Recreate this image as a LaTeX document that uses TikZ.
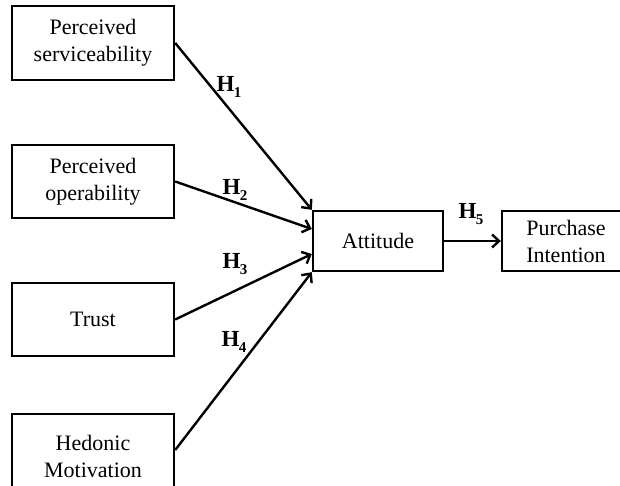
\documentclass[tikz,border=0pt]{standalone}
\usepackage{fontspec}
\setmainfont{Liberation Serif}
\usetikzlibrary{arrows.meta}
\newcommand\hlab[1]{\textbf{H\kern-0.5pt\raisebox{-0.5ex}{\fontsize{15}{15}\selectfont #1}}}
\begin{document}
\begin{tikzpicture}[x=1pt,y=-1pt,
  box/.style={draw,line width=2.4pt,minimum width=162pt,minimum height=74pt,align=center,inner sep=0pt,
    font=\fontsize{22}{27}\selectfont},
  rbox/.style={box,minimum width=130pt,minimum height=60pt},
  arr/.style={line width=2.4pt,-{Straight Barb[length=7pt,width=13pt,line width=2.4pt]}},
  hl/.style={font=\fontsize{23}{23}\selectfont,inner sep=0pt}]
\useasboundingbox (0,0) rectangle (620,486);
\clip (0,0) rectangle (620,486);
\node[box] (ps) at (93,43) {Perceived\\serviceability};
\node[box,minimum height=73pt] (po) at (93,181.5) {Perceived\\operability};
\node[box,minimum height=73pt] (tr) at (93,319.5) {Trust};
\node[box,minimum height=84pt] (hm) at (93,456) {Hedonic\\Motivation};
\node[rbox] (at) at (378,241) {Attitude};
\node[rbox,minimum width=128pt] (pi) at (566,241) {Purchase\\Intention};
\coordinate (e2) at ([yshift=12pt]at.west);
\coordinate (e3) at ([yshift=-13pt]at.west);
\draw[arr] (ps.east) -- (at.north west);
\draw[arr] (po.east) -- (e2);
\draw[arr] (tr.east) -- (e3);
\draw[arr] (hm.north east |- 0,450) -- (at.south west);
\draw[arr] (at.east) -- (pi.west);
\node[hl] (h1) at (229,87) {\hlab{1}};
\node[hl] (h2) at (235,190) {\hlab{2}};
\node[hl] (h3) at (235,264) {\hlab{3}};
\node[hl] (h4) at (234,342) {\hlab{4}};
\node[hl] (h5) at (471,214) {\hlab{5}};
\end{tikzpicture}
\end{document}
